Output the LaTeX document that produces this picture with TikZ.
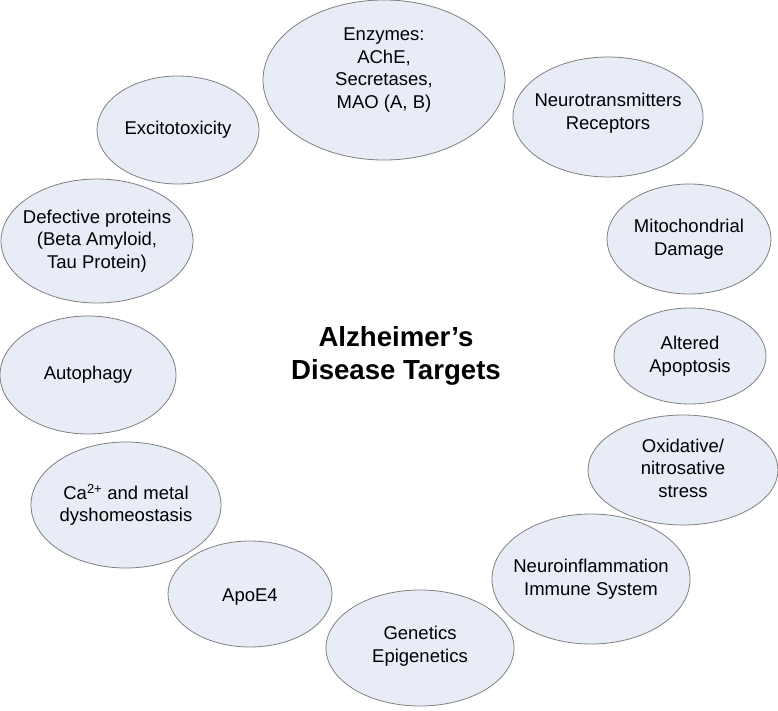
\documentclass[tikz,border=0pt]{standalone}
\usepackage{fontspec}
\setmainfont{Liberation Sans}
\usetikzlibrary{shapes.geometric}
\definecolor{bubfill}{RGB}{231,236,246}
\definecolor{bubline}{RGB}{128,128,128}
\tikzset{
  bub/.style={ellipse, draw=bubline, fill=bubfill, line width=0.8pt, inner sep=0pt},
  txt/.style={align=center, inner sep=0pt, font=\fontsize{18.5}{22.5}\selectfont},
  ttl/.style={align=center, inner sep=0pt, font=\fontsize{27.6}{33}\selectfont\bfseries}
}
\begin{document}
\begin{tikzpicture}[x=1pt,y=-1pt]
\useasboundingbox (0,0) rectangle (778,711);
% bubbles: minimum width = 2 rx, minimum height = 2 ry
\node[bub, minimum width=242, minimum height=160] (enz) at (384,80) {};
\node[bub, minimum width=190, minimum height=120] (neu) at (608,117) {};
\node[bub, minimum width=164, minimum height=110] (mit) at (689,239) {};
\node[bub, minimum width=152, minimum height=96] (apo) at (690,356) {};
\node[bub, minimum width=190, minimum height=110] (oxi) at (683,470) {};
\node[bub, minimum width=198, minimum height=130] (inf) at (591,579) {};
\node[bub, minimum width=188, minimum height=116] (gen) at (420,648) {};
\node[bub, minimum width=190, minimum height=126] (cal) at (126,505) {};
\node[bub, minimum width=164, minimum height=106] (ape) at (250,594) {};
\node[bub, minimum width=176, minimum height=118] (aut) at (88,375) {};
\node[bub, minimum width=192, minimum height=124] (def) at (97,241) {};
\node[bub, minimum width=162, minimum height=108] (exc) at (178,130) {};
% texts
\node[txt] (enzT) at ([yshift=10pt]enz.center) {Enzymes:\\AChE,\\Secretases,\\MAO (A, B)};
\node[txt] (neuT) at ([yshift=4pt]neu.center) {Neurotransmitters\\Receptors};
\node[txt] (mitT) at (mit.center) {Mitochondrial\\Damage};
\node[txt] (apoT) at (apo.center) {Altered\\Apoptosis};
\node[txt] (oxiT) at ([yshift=2pt]oxi.center) {Oxidative/\\nitrosative\\stress};
\node[txt] (infT) at (inf.center) {Neuroinflammation\\Immune System};
\node[txt] (genT) at ([yshift=2pt]gen.center) {Genetics\\Epigenetics};
\node[txt] (calT) at (cal.center) {Ca\textsuperscript{2+} and metal\\dyshomeostasis};
\node[txt] (apeT) at ([yshift=-3pt]ape.center) {ApoE4};
\node[txt] (autT) at (aut.center) {Autophagy};
\node[txt] (defT) at (def.center) {Defective proteins\\(Beta Amyloid,\\Tau Protein)};
\node[txt] (excT) at (exc.center) {Excitotoxicity};
% title
\node[ttl] (title) at (396,356) {Alzheimer’s\\Disease Targets};
\end{tikzpicture}
\end{document}
